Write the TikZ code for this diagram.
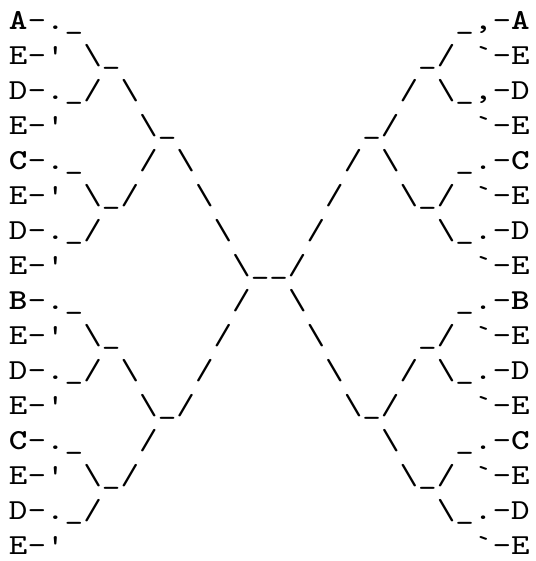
\documentclass[tikz,border=0pt]{standalone}
\usepackage{fontspec}
\setmonofont{lmmono10-regular.otf}[BoldFont=lmmonolt10-bold.otf,FakeStretch=1.22]
\usepackage{tikz}
\definecolor{ink}{HTML}{000000}
\tikzset{
  art/.style={font=\ttfamily\fontsize{29}{35}\selectfont, text=ink,
    anchor=base west, inner sep=0pt, outer sep=0pt},
}
\newcommand\bsl{\textbackslash}
% one run of characters: row, column, text
\newcommand\seg[3]{\node[art] (r#1c#2) at ({\xo+#2*\cw},{\yo-(#1-1)*\lh}) {#3};}

\begin{document}
\begin{tikzpicture}[x=1pt,y=1pt]
  \def\xo{9}
  \def\yo{531.5}
  \def\cw{18.6}
  \def\lh{35.0}
  \useasboundingbox (0,0) rectangle (535,561);
  % upper half
  \seg{1}{0}{\textbf{A}-.\_}   \seg{1}{24}{\_,-\textbf{A}}
  \seg{2}{0}{E-'} \seg{2}{4}{\bsl\_} \seg{2}{22}{\_/} \seg{2}{25}{`-E}
  \seg{3}{0}{D-.\_/} \seg{3}{6}{\bsl} \seg{3}{21}{/} \seg{3}{23}{\bsl\_,-D}
  \seg{4}{0}{E-'} \seg{4}{7}{\bsl\_} \seg{4}{19}{\_/} \seg{4}{25}{`-E}
  \seg{5}{0}{\textbf{C}-.\_} \seg{5}{7}{/} \seg{5}{9}{\bsl}
  \seg{5}{18}{/} \seg{5}{20}{\bsl} \seg{5}{24}{\_.-\textbf{C}}
  \seg{6}{0}{E-'} \seg{6}{4}{\bsl\_/} \seg{6}{10}{\bsl}
  \seg{6}{17}{/} \seg{6}{21}{\bsl\_/} \seg{6}{25}{`-E}
  \seg{7}{0}{D-.\_/} \seg{7}{11}{\bsl} \seg{7}{16}{/} \seg{7}{23}{\bsl\_.-D}
  \seg{8}{0}{E-'} \seg{8}{12}{\bsl\_\_/} \seg{8}{25}{`-E}
  % lower half
  \seg{9}{0}{\textbf{B}-.\_} \seg{9}{12}{/} \seg{9}{15}{\bsl} \seg{9}{24}{\_.-\textbf{B}}
  \seg{10}{0}{E-'} \seg{10}{4}{\bsl\_} \seg{10}{11}{/}
  \seg{10}{16}{\bsl} \seg{10}{22}{\_/} \seg{10}{25}{`-E}
  \seg{11}{0}{D-.\_/} \seg{11}{6}{\bsl} \seg{11}{10}{/}
  \seg{11}{17}{\bsl} \seg{11}{21}{/} \seg{11}{23}{\bsl\_.-D}
  \seg{12}{0}{E-'} \seg{12}{7}{\bsl\_/} \seg{12}{18}{\bsl\_/} \seg{12}{25}{`-E}
  \seg{13}{0}{\textbf{C}-.\_} \seg{13}{7}{/} \seg{13}{20}{\bsl} \seg{13}{24}{\_.-\textbf{C}}
  \seg{14}{0}{E-'} \seg{14}{4}{\bsl\_/} \seg{14}{21}{\bsl\_/} \seg{14}{25}{`-E}
  \seg{15}{0}{D-.\_/} \seg{15}{23}{\bsl\_.-D}
  \seg{16}{0}{E-'} \seg{16}{25}{`-E}
\end{tikzpicture}
\end{document}
